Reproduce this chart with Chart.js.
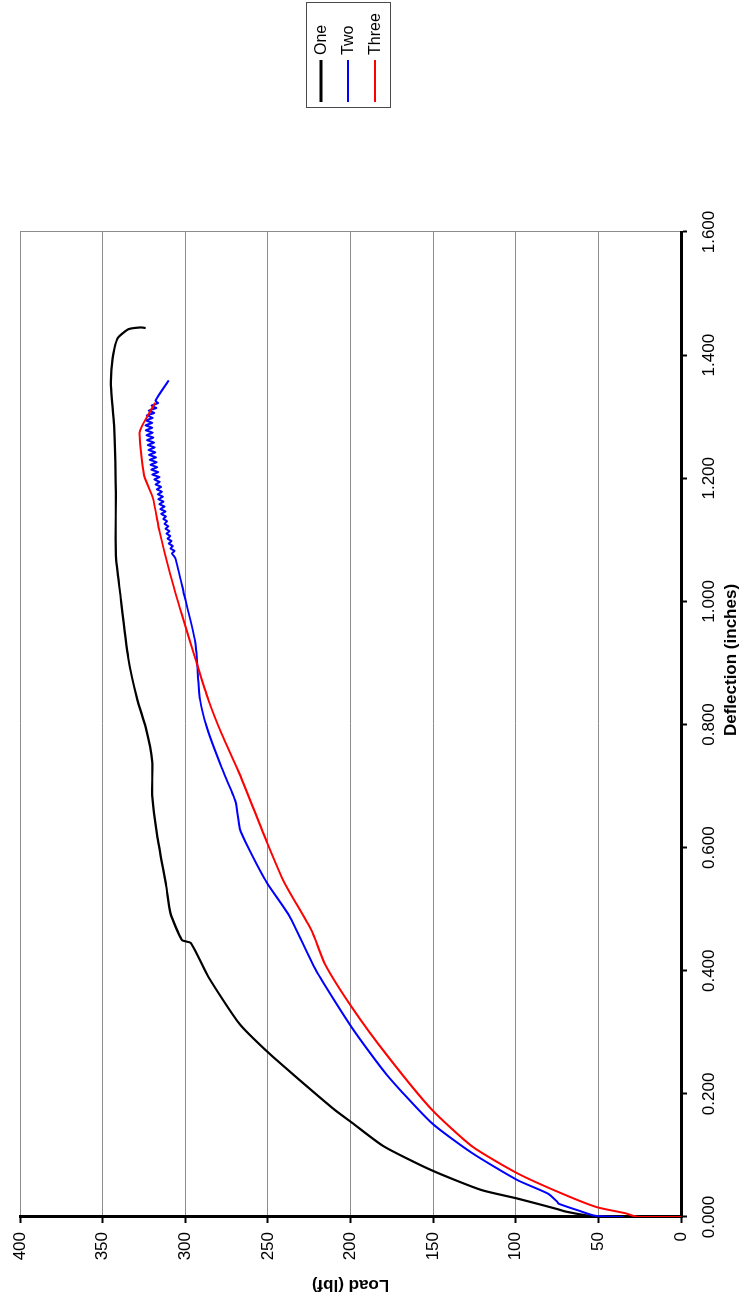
<!DOCTYPE html>
<html>
<head>
<meta charset="utf-8">
<script src="https://cdn.jsdelivr.net/npm/chart.js@4.4.1/dist/chart.umd.min.js"></script>
<style>
  html, body { margin: 0; padding: 0; background: #fff; overflow: hidden; }
  /* The chart is laid out landscape and turned a quarter turn counter-clockwise onto the portrait page */
  #sheet {
    position: absolute; left: 0; top: 0;
    width: 1298px; height: 755px;
    transform-origin: 0 0;
    transform: translateY(1298px) rotate(-90deg);
    background: #fff;
  }
</style>
</head>
<body>
<div id="sheet"><canvas id="chart" width="1298" height="755"></canvas></div>
<script>
// ---- Load–deflection test records ----
const seriesNames = ['One', 'Two', 'Three'];
const seriesColors = ['#000000', '#0000ff', '#ff0000'];

const oneDeflection = [0.000, 0.002, 0.009, 0.013, 0.030, 0.044, 0.076, 0.115, 0.153, 0.175, 0.231, 0.269, 0.313,
  0.390, 0.445, 0.450, 0.494, 0.537, 0.620, 0.686, 0.741, 0.796, 0.840, 0.908, 1.015, 1.075, 1.177, 1.286,
  1.351, 1.395, 1.427, 1.442, 1.445, 1.444];
const oneLoad = [50, 56, 70, 75, 99, 121, 151, 180, 199, 210, 234.5, 250.6, 267,
  286, 296.6, 302, 309, 311.5, 317, 320, 320, 324, 329, 334.5, 339.5, 342, 342, 343,
  345, 344, 341, 334.5, 327, 324];

// record "Two" scatters between about ±2 lbf above 1.08 in of deflection
const twoDeflection = [0.000, 0.002, 0.0105, 0.0216, 0.025, 0.038, 0.060, 0.104, 0.153, 0.231, 0.307, 0.401, 0.489,
  0.543, 0.598, 0.631, 0.675, 0.730, 0.796, 0.840, 0.934, 1.015, 1.070,
  1.078, 1.082, 1.086, 1.090, 1.094, 1.098, 1.102, 1.106, 1.110, 1.114, 1.118, 1.122, 1.126, 1.130,
  1.134, 1.138, 1.142, 1.146, 1.150, 1.154, 1.158, 1.162, 1.166, 1.170, 1.174, 1.178, 1.182, 1.186,
  1.190, 1.194, 1.198, 1.202, 1.206, 1.210, 1.214, 1.218, 1.222, 1.226, 1.230, 1.234, 1.238, 1.242,
  1.246, 1.250, 1.254, 1.258, 1.262, 1.266, 1.270, 1.274, 1.278, 1.282, 1.286, 1.290, 1.294, 1.298,
  1.302, 1.306, 1.310, 1.314, 1.318, 1.322, 1.326, 1.359];
const twoLoad = [35, 52, 62, 74, 75, 80.5, 99, 126.5, 151, 178, 199, 221, 237,
  250.6, 261.5, 267, 269.6, 278, 287, 291, 294, 301, 306,
  308, 306.5, 309, 307.5, 310, 308.3, 310.7, 309, 311.3, 309.5, 311.9, 310.2, 312.6, 311,
  313.3, 311.7, 314.6, 311.9, 315.2, 312.5, 315.8, 313.1, 316.3, 313.5, 316.7, 314, 317.2, 314.6,
  318, 315.4, 318.8, 315.6, 320, 316.3, 320.6, 316.9, 321.1, 317.3, 321.5, 317.7, 321.9, 318.1,
  322.3, 318.5, 322.7, 318.9, 323.1, 319.3, 323.5, 319.7, 323.9, 320, 324, 320, 323.9, 319.7,
  323.3, 318.8, 322, 317.5, 320.5, 316.5, 318, 310];

const threeDeflection = [0.000, 0.000, 0.002, 0.006, 0.016, 0.038, 0.071, 0.115, 0.175, 0.263, 0.340, 0.411, 0.466,
  0.543, 0.609, 0.719, 0.785, 0.840, 0.908, 0.978, 1.043, 1.113, 1.168, 1.205, 1.273, 1.286, 1.310, 1.323];
const threeLoad = [0, 25, 29, 33.5, 51, 72, 99, 126.5, 151, 178, 199, 215.5, 223.7,
  240, 250.6, 267, 278, 286, 294, 302, 309, 315.5, 319.6, 325, 327.7, 326, 321, 318];

const deflectionTickValues = [0, 0.2, 0.4, 0.6, 0.8, 1.0, 1.2, 1.4, 1.6];
const deflectionTickLabels = ['0.000', '0.200', '0.400', '0.600', '0.800', '1.000', '1.200', '1.400', '1.600'];
const loadTickValues = [0, 50, 100, 150, 200, 250, 300, 350, 400];
const loadTickLabels = ['0', '50', '100', '150', '200', '250', '300', '350', '400'];

const xTitle = 'Deflection (inches)';
const yTitle = 'Load (lbf)';

// ---- chart ----
const FONT = "'Liberation Sans', Arial, sans-serif";
const GRID_GREY = '#8c8c8c';

function pairs(xs, ys) { return xs.map((x, i) => ({ x: x, y: ys[i] })); }

const seriesData = [
  pairs(oneDeflection, oneLoad),
  pairs(twoDeflection, twoLoad),
  pairs(threeDeflection, threeLoad)
];

const datasets = seriesNames.map((name, i) => ({
  label: name,
  data: seriesData[i],
  borderColor: seriesColors[i],
  backgroundColor: seriesColors[i],
  borderWidth: i === 0 ? 2.2 : 2,
  pointRadius: 0,
  tension: 0.2,
  fill: false,
  order: seriesNames.length - i
}));

// Boxed legend at the right of the plot, plus the category-axis title
const decorations = {
  id: 'decorations',
  afterDraw(chart) {
    const ctx = chart.ctx;
    ctx.save();
    // legend
    const box = { left: 1190, top: 306, right: 1295, bottom: 390 };
    ctx.fillStyle = '#fff';
    ctx.fillRect(box.left, box.top, box.right - box.left, box.bottom - box.top);
    ctx.strokeStyle = '#4a4a4a';
    ctx.lineWidth = 1;
    ctx.strokeRect(box.left + 0.5, box.top + 0.5, box.right - box.left, box.bottom - box.top);
    ctx.font = '16px ' + FONT;
    ctx.textBaseline = 'middle';
    ctx.textAlign = 'left';
    chart.data.datasets.forEach((ds, i) => {
      const y = 321 + i * 27;
      ctx.strokeStyle = ds.borderColor;
      ctx.lineWidth = i === 0 ? 3 : 2;
      ctx.beginPath();
      ctx.moveTo(1196, y);
      ctx.lineTo(1238, y);
      ctx.stroke();
      ctx.fillStyle = '#000';
      ctx.fillText(ds.label, 1243, y + 1);
    });
    // x-axis title, centred on the whole figure
    ctx.font = 'bold 17px ' + FONT;
    ctx.textAlign = 'center';
    ctx.fillStyle = '#000';
    ctx.fillText(xTitle, 638, 731);
    ctx.restore();
  }
};

new Chart(document.getElementById('chart'), {
  type: 'line',
  data: { datasets: datasets },
  plugins: [decorations],
  options: {
    responsive: false,
    animation: false,
    events: [],
    layout: { padding: { top: 20, right: 232, bottom: 0, left: 0 } },
    plugins: { legend: { display: false }, tooltip: { enabled: false }, title: { display: false } },
    scales: {
      x: {
        type: 'linear',
        min: 0, max: 1.6,
        afterBuildTicks(scale) { scale.ticks = deflectionTickValues.map(v => ({ value: v })); },
        afterFit(scale) { scale.height = 74; },
        ticks: {
          autoSkip: false, maxRotation: 0, minRotation: 0,
          padding: 12, color: '#000',
          font: { family: FONT, size: 17 },
          callback: (v, i) => deflectionTickLabels[i]
        },
        grid: {
          color: ctx => (ctx.index === deflectionTickValues.length - 1 ? GRID_GREY : 'rgba(0,0,0,0)'),
          lineWidth: 1,
          tickColor: '#000', tickLength: 6, tickWidth: 2,
          drawOnChartArea: true, drawTicks: true
        },
        border: { display: true, color: '#000', width: 3 },
        title: { display: false }
      },
      y: {
        type: 'linear',
        min: 0, max: 400,
        afterBuildTicks(scale) { scale.ticks = loadTickValues.map(v => ({ value: v })); },
        afterFit(scale) { scale.width = 81; },
        ticks: {
          autoSkip: false, padding: 9, color: '#000',
          font: { family: FONT, size: 17 },
          callback: (v, i) => loadTickLabels[i]
        },
        grid: {
          color: GRID_GREY, lineWidth: 1,
          tickColor: '#000', tickLength: 6, tickWidth: 2
        },
        border: { display: true, color: '#000', width: 3 },
        title: {
          display: true, text: yTitle, color: '#000',
          font: { family: FONT, size: 17, weight: 'bold' },
          padding: { top: 3, bottom: 0 }
        }
      }
    }
  }
});
</script>
</body>
</html>
